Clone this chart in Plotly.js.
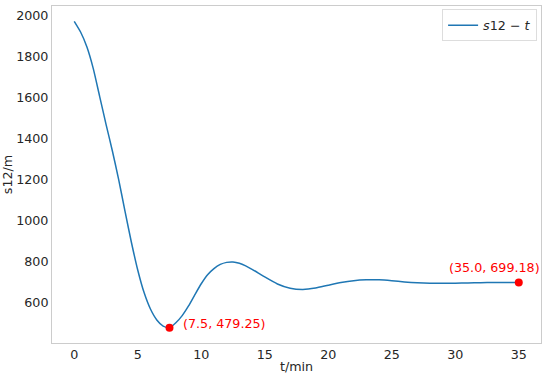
<!DOCTYPE html>
<html>
<head>
<meta charset="utf-8">
<script src="https://cdn.plot.ly/plotly-3.0.1.min.js"></script>
<style>html,body{margin:0;padding:0;background:#fff;}#chart{width:550px;height:376px;}</style>
</head>
<body>
<div id="chart"></div>
<script>
var tValues = [0,0.5,1,1.5,2,2.5,3,3.5,4,4.5,5,5.5,6,6.5,7,7.5,8,8.5,9,9.5,10,10.5,11,11.5,12,12.5,13,13.5,14,14.5,15,16,17,18,19,20,21,22,23,24,25,26,27,28,29,30,31,32,33,34,35];
var sValues = [1970,1918,1845,1740,1605,1470,1340,1200,1045,895,760,650,570,517,487,479.25,503,538,585,640,693,737,767,787,797,799,793,780,763,745,726,692,671,665,672,686,699,708,712,712,708,702,698,696,696,696,697,698,699,699,699.18];
var markT = [7.5, 35.0];
var markS = [479.25, 699.18];
var markLabels = ["(7.5, 479.25)", "(35.0, 699.18)"];
var seriesName = "<i>s</i>12 − <i>t</i>";
var xTicks = [0,5,10,15,20,25,30,35];
var yTicks = [600,800,1000,1200,1400,1600,1800,2000];

var font = {family: "DejaVu Sans", size: 12.7, color: "#262626"};

var traces = [
  {x: tValues, y: sValues, type: "scatter", mode: "lines", name: seriesName,
   line: {color: "#1f77b4", width: 1.5, shape: "spline", smoothing: 0.6}},
  {x: markT, y: markS, type: "scatter", mode: "markers", showlegend: false,
   marker: {color: "#ff0000", size: 8}}
];

var layout = {
  width: 550, height: 376,
  margin: {l: 52, r: 9, t: 6, b: 33},
  paper_bgcolor: "#ffffff", plot_bgcolor: "#ffffff",
  font: font,
  showlegend: true,
  legend: {x: 0.992, y: 0.99, xanchor: "right", yanchor: "top",
           bordercolor: "#dddddd", borderwidth: 1, bgcolor: "#ffffff",
           font: {family: "DejaVu Sans", size: 12.7, color: "#262626"}},
  xaxis: {range: [-1.75, 36.75], tickvals: xTicks, ticks: "", showgrid: false, zeroline: false,
          showline: true, mirror: true, linecolor: "#cccccc", linewidth: 1,
          tickfont: font, title: {text: "t/min", font: font, standoff: 0}},
  yaxis: {range: [404.7, 2044.5], tickvals: yTicks, ticks: "", showgrid: false, zeroline: false,
          showline: true, mirror: true, linecolor: "#cccccc", linewidth: 1,
          tickfont: font, title: {text: "s12/m", font: font, standoff: 4}},
  annotations: [
    {x: markT[0], y: markS[0], xref: "x", yref: "y", text: markLabels[0], showarrow: false,
     xanchor: "left", yanchor: "middle", xshift: 12, yshift: 4, font: {family: "DejaVu Sans", size: 12.7, color: "#ff0000"}},
    {x: markT[1], y: markS[1], xref: "x", yref: "y", text: markLabels[1], showarrow: false,
     xanchor: "right", yanchor: "middle", xshift: 23, yshift: 15, font: {family: "DejaVu Sans", size: 12.7, color: "#ff0000"}}
  ]
};

Plotly.newPlot("chart", traces, layout, {displayModeBar: false, staticPlot: true});
</script>
</body>
</html>
